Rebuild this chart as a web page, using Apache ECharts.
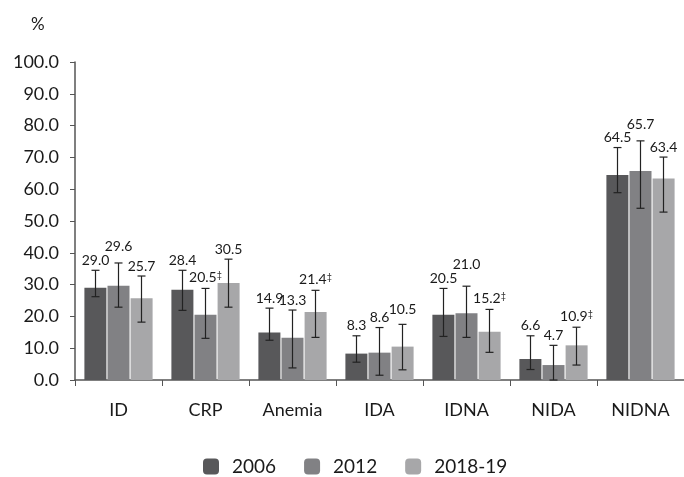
<!DOCTYPE html>
<html lang="en">
<head>
  <meta charset="UTF-8">
  <title>Chart</title>
  <script src="https://cdn.jsdelivr.net/npm/echarts@6/dist/echarts.min.js"></script>
  <style>
    html, body { margin: 0; padding: 0; background: #fff; }
  </style>
</head>
<body>
  <div id="main" style="width:684px;height:477px"></div>

  <script>
    // categories and values
    var categories = ['ID', 'CRP', 'Anemia', 'IDA', 'IDNA', 'NIDA', 'NIDNA']
    var years = ['2006', '2012', '2018-19']

    var v2006 = [29.0, 28.4, 14.9, 8.3, 20.5, 6.6, 64.5]
    var v2012 = [29.6, 20.5, 13.3, 8.6, 21.0, 4.7, 65.7]
    var v2018 = [25.7, 30.5, 21.4, 10.5, 15.2, 10.9, 63.4]

    // confidence intervals (low / high)
    var lo2006 = [26.2, 21.9, 12.5, 5.6, 13.7, 3.3, 58.9]
    var hi2006 = [34.5, 34.5, 22.6, 13.9, 28.8, 13.9, 73.1]
    var lo2012 = [22.9, 13.1, 3.8, 1.5, 13.4, 0.0, 54.0]
    var hi2012 = [36.8, 28.8, 22.0, 16.5, 29.5, 10.9, 75.2]
    var lo2018 = [18.2, 22.9, 13.4, 3.2, 8.7, 4.7, 52.8]
    var hi2018 = [32.7, 38.0, 28.2, 17.5, 22.2, 16.6, 70.1]

    // significance marks
    var mark2006 = ['', '', '', '', '', '', '']
    var mark2012 = ['', '‡', '', '', '', '', '']
    var mark2018 = ['', '', '‡', '', '‡', '‡', '']

    var colors = ['#58585a', '#818184', '#a7a7a9']
    var font = 'Lato, "Open Sans", sans-serif'
    var ink = '#1a1a1a'

    var barW = 22
    var step = 23   // bar width + small gap
    // labels that sit a little higher to avoid bumping into neighbours
    var lift = { '0-1': 6, '3-2': 5, '4-1': 12, '6-1': 6 }

    function errSeries(idx, lo, hi, vals, marks) {
      var data = categories.map(function (c, i) {
        return [i, lo[i], hi[i], vals[i], marks[i]]
      })
      return {
        type: 'custom',
        name: years[idx] + ' err',
        z: 10,
        data: data,
        encode: { x: 0, y: [1, 2] },
        renderItem: function (params, api) {
          var i = api.value(0)
          var off = (idx - 1) * step
          var pLo = api.coord([i, api.value(1)])
          var pHi = api.coord([i, api.value(2)])
          var x = pLo[0] + off
          var cap = 4
          var st = { stroke: '#222', lineWidth: 1.2 }
          var val = vals[i].toFixed(1)
          var mk = marks[i]
          var up = lift[i + '-' + idx] || 0
          return {
            type: 'group',
            children: [
              { type: 'line', shape: { x1: x, y1: pLo[1], x2: x, y2: pHi[1] }, style: st },
              { type: 'line', shape: { x1: x - cap, y1: pHi[1], x2: x + cap, y2: pHi[1] }, style: st },
              { type: 'line', shape: { x1: x - cap, y1: pLo[1], x2: x + cap, y2: pLo[1] }, style: st },
              {
                type: 'text',
                x: x,
                y: pHi[1] - 3 - up,
                style: {
                  text: '{v|' + val + '}' + (mk ? '{m|' + mk + '}' : ''),
                  align: 'center',
                  verticalAlign: 'bottom',
                  rich: {
                    v: { fontSize: 14, fontFamily: font, fill: ink },
                    m: { fontSize: 9, fontFamily: font, fill: ink, verticalAlign: 'top', padding: [0, 0, 6, 0] }
                  }
                }
              }
            ]
          }
        }
      }
    }

    function barSeries(idx, vals) {
      return {
        name: years[idx],
        type: 'bar',
        data: vals,
        barWidth: barW,
        barGap: '5%',
        itemStyle: { color: colors[idx] }
      }
    }

    var mCharts = echarts.init(document.getElementById('main'))
    var option = {
      animation: false,
      title: {
        text: '%',
        left: 26,
        top: 11,
        textStyle: { fontSize: 17, fontWeight: 'normal', fontFamily: font, color: ink }
      },
      grid: { left: 75, top: 62, width: 616, height: 318 },
      legend: {
        data: years,
        bottom: -4,
        left: 198,
        itemWidth: 16,
        itemHeight: 16,
        itemGap: 28,
        textStyle: { fontSize: 19, fontFamily: font, color: ink, padding: [0, 0, 0, 8] }
      },
      xAxis: {
        type: 'category',
        data: categories,
        axisLine: { lineStyle: { color: '#555', width: 1.5 } },
        axisTick: { show: true, length: 6, lineStyle: { color: '#555' } },
        axisLabel: { fontSize: 18, fontFamily: font, color: ink, margin: 21 }
      },
      yAxis: {
        type: 'value',
        min: 0,
        max: 100,
        interval: 10,
        splitLine: { show: false },
        axisLine: { show: true, lineStyle: { color: '#555', width: 1.5 } },
        axisTick: { show: true, length: 5, lineStyle: { color: '#555' } },
        axisLabel: {
          fontSize: 18, fontFamily: font, color: ink, margin: 16,
          formatter: function (v) { return v.toFixed(1) }
        }
      },
      series: [
        barSeries(0, v2006),
        barSeries(1, v2012),
        barSeries(2, v2018),
        errSeries(0, lo2006, hi2006, v2006, mark2006),
        errSeries(1, lo2012, hi2012, v2012, mark2012),
        errSeries(2, lo2018, hi2018, v2018, mark2018)
      ]
    }
    mCharts.setOption(option)
  </script>
</body>
</html>
